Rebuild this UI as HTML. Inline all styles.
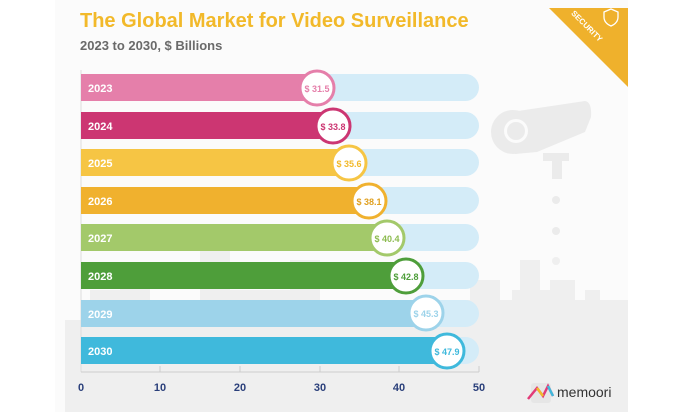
<!DOCTYPE html>
<html><head><meta charset="utf-8"><style>
html,body{margin:0;padding:0;background:#fff;}
svg{display:block;font-family:"Liberation Sans",sans-serif;}
</style></head><body>
<svg width="680" height="420" viewBox="0 0 680 420" xmlns="http://www.w3.org/2000/svg">
<rect x="55" y="0" width="573" height="412" fill="#fbfbfb"/>
<!-- skyline -->
<g fill="#efefef">
<path d="M65 412 V320 H90 V290 H120 V270 H150 V300 H200 V240 H230 V290 H290 V260 H320 V300 H470 V280 H500 V300 H512 V290 H520 V260 H540 V290 H550 V280 H575 V300 H585 V290 H600 V300 H628 V412 Z"/>
<circle cx="556" cy="261" r="4"/><circle cx="556" cy="293" r="4"/>
</g>
<!-- camera -->
<g fill="#ebebeb">
<path d="M505 113 L585 101 Q592 102 591 117 L585 132 L537 152 L515 154 Z"/>
<circle cx="513" cy="132" r="22"/>
<circle cx="516" cy="131" r="12" fill="#fbfbfb"/>
<circle cx="516" cy="131" r="9"/>
<rect x="543" y="153" width="26" height="8"/>
<rect x="552" y="161" width="10" height="18"/>
<circle cx="556" cy="200" r="4"/><circle cx="556" cy="231" r="4"/>
</g>
<!-- security ribbon -->
<polygon points="549,8 628,8 628,87" fill="#efb12c"/>
<text x="585" y="28" font-size="8" font-weight="bold" fill="#fff" transform="rotate(45 585 28)" text-anchor="middle">SECURITY</text>
<path d="M604 12 l7 -3 l7 3 v5 q0 6 -7 9 q-7 -3 -7 -9z" fill="none" stroke="#fff" stroke-width="1.3"/>
<text x="80" y="27" font-size="20" font-weight="bold" fill="#f2b92a">The Global Market for Video Surveillance</text>
<text x="80" y="50" font-size="13" font-weight="bold" fill="#6a6a6a">2023 to 2030, $ Billions</text>
<line x1="81" y1="70" x2="81" y2="372" stroke="#ddd"/>
<line x1="81" y1="372" x2="479" y2="372" stroke="#ccc"/>
<g stroke="#ccc"><line x1="160" y1="366" x2="160" y2="372"/><line x1="240" y1="366" x2="240" y2="372"/><line x1="320" y1="366" x2="320" y2="372"/><line x1="399" y1="366" x2="399" y2="372"/><line x1="479" y1="366" x2="479" y2="372"/></g>
<g font-size="11" font-weight="bold" fill="#2a3f7a" text-anchor="middle">
<text x="81" y="391">0</text><text x="160" y="391">10</text><text x="240" y="391">20</text><text x="320" y="391">30</text><text x="399" y="391">40</text><text x="479" y="391">50</text></g>
<g font-size="11" font-weight="bold">
<g><rect x="81" y="74" width="398" height="27" rx="13.5" fill="#d4ecf8"/><rect x="81" y="74" width="236" height="27" fill="#e57faa"/><text x="88" y="92" fill="#fff">2023</text><circle cx="317" cy="88" r="17" fill="#fff" stroke="#e57faa" stroke-width="3"/><text x="317" y="92" fill="#e57faa" font-size="9" text-anchor="middle">$ 31.5</text></g>
<g><rect x="81" y="112" width="398" height="27" rx="13.5" fill="#d4ecf8"/><rect x="81" y="112" width="252" height="27" fill="#cc3672"/><text x="88" y="130" fill="#fff">2024</text><circle cx="333" cy="126" r="17" fill="#fff" stroke="#cc3672" stroke-width="3"/><text x="333" y="130" fill="#cc3672" font-size="9" text-anchor="middle">$ 33.8</text></g>
<g><rect x="81" y="149" width="398" height="27" rx="13.5" fill="#d4ecf8"/><rect x="81" y="149" width="268" height="27" fill="#f6c544"/><text x="88" y="167" fill="#fff">2025</text><circle cx="349" cy="163" r="17" fill="#fff" stroke="#f6c544" stroke-width="3"/><text x="349" y="167" fill="#f2b92a" font-size="9" text-anchor="middle">$ 35.6</text></g>
<g><rect x="81" y="187" width="398" height="27" rx="13.5" fill="#d4ecf8"/><rect x="81" y="187" width="288" height="27" fill="#f0b12e"/><text x="88" y="205" fill="#fff">2026</text><circle cx="369" cy="201" r="17" fill="#fff" stroke="#f0b12e" stroke-width="3"/><text x="369" y="205" fill="#e0a020" font-size="9" text-anchor="middle">$ 38.1</text></g>
<g><rect x="81" y="224" width="398" height="27" rx="13.5" fill="#d4ecf8"/><rect x="81" y="224" width="306" height="27" fill="#a3c96a"/><text x="88" y="242" fill="#fff">2027</text><circle cx="387" cy="238" r="17" fill="#fff" stroke="#a3c96a" stroke-width="3"/><text x="387" y="242" fill="#8cbb4f" font-size="9" text-anchor="middle">$ 40.4</text></g>
<g><rect x="81" y="262" width="398" height="27" rx="13.5" fill="#d4ecf8"/><rect x="81" y="262" width="325" height="27" fill="#4e9e3a"/><text x="88" y="280" fill="#fff">2028</text><circle cx="406" cy="276" r="17" fill="#fff" stroke="#4e9e3a" stroke-width="3"/><text x="406" y="280" fill="#4e9e3a" font-size="9" text-anchor="middle">$ 42.8</text></g>
<g><rect x="81" y="300" width="398" height="27" rx="13.5" fill="#d4ecf8"/><rect x="81" y="300" width="345" height="27" fill="#9dd3ea"/><text x="88" y="318" fill="#fff">2029</text><circle cx="426" cy="313" r="17" fill="#fff" stroke="#9dd3ea" stroke-width="3"/><text x="426" y="317" fill="#9dd3ea" font-size="9" text-anchor="middle">$ 45.3</text></g>
<g><rect x="81" y="337" width="398" height="27" rx="13.5" fill="#d4ecf8"/><rect x="81" y="337" width="366" height="27" fill="#3fb9dc"/><text x="88" y="355" fill="#fff">2030</text><circle cx="447" cy="351" r="17" fill="#fff" stroke="#3fb9dc" stroke-width="3"/><text x="447" y="355" fill="#3fb9dc" font-size="9" text-anchor="middle">$ 47.9</text></g>
</g>
<rect x="531" y="383" width="20" height="20" rx="3" fill="#e6e6e6"/>
<polyline points="528,399 537,388 543,396 548,386 553,396" fill="none" stroke="#e23b78" stroke-width="2.5"/>
<polyline points="537,388 543,396" fill="none" stroke="#f2b92a" stroke-width="2.5"/>
<polyline points="548,386 553,396" fill="none" stroke="#3fb9dc" stroke-width="2.5"/>
<text x="557" y="397" font-size="14" fill="#333">memoori</text>
</svg>
</body></html>
